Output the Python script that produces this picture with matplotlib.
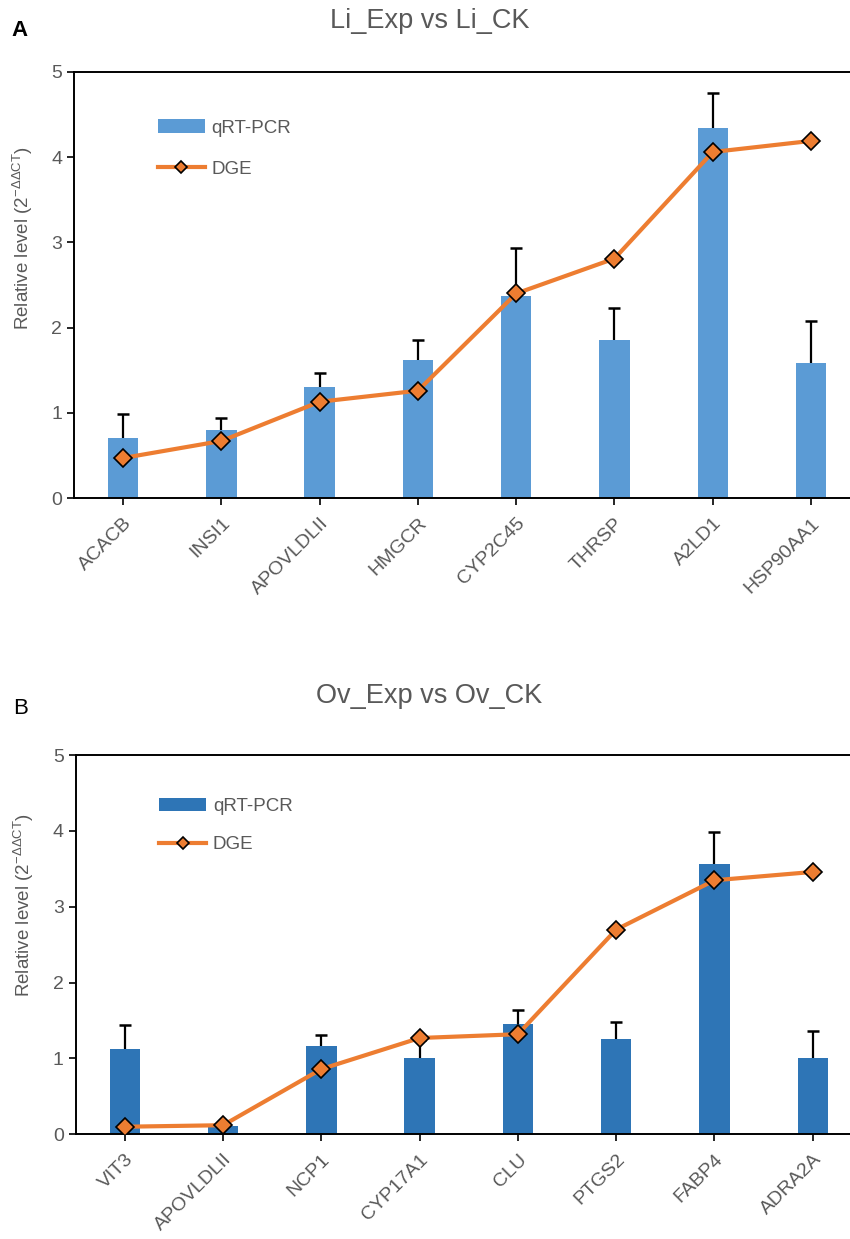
import matplotlib.pyplot as plt
from matplotlib.patches import Patch
from matplotlib.lines import Line2D
import numpy as np

plt.rcParams["font.family"] = ["Liberation Sans", "DejaVu Sans"]

# Panel A: Li_Exp vs Li_CK
genes_a = ["ACACB", "INSI1", "APOVLDLII", "HMGCR", "CYP2C45", "THRSP", "A2LD1", "HSP90AA1"]
qpcr_a = [0.70, 0.80, 1.30, 1.62, 2.37, 1.86, 4.34, 1.58]
qpcr_a_top = [0.99, 0.94, 1.47, 1.86, 2.93, 2.23, 4.75, 2.08]
dge_a = [0.47, 0.67, 1.13, 1.26, 2.40, 2.81, 4.06, 4.19]

# Panel B: Ov_Exp vs Ov_CK
genes_b = ["VIT3", "APOVLDLII", "NCP1", "CYP17A1", "CLU", "PTGS2", "FABP4", "ADRA2A"]
qpcr_b = [1.12, 0.11, 1.16, 1.00, 1.46, 1.26, 3.56, 1.00]
qpcr_b_top = [1.44, 0.14, 1.31, 1.25, 1.64, 1.48, 3.99, 1.36]
dge_b = [0.10, 0.12, 0.86, 1.27, 1.32, 2.70, 3.35, 3.46]

gray = "#595959"
orange = "#ED7D31"

fig = plt.figure(figsize=(8.5, 12.39), dpi=100)


def panel(rect, genes, qpcr, qpcr_top, dge, bar_color, leg_top, leg_space, lab_y):
    ax = fig.add_axes(rect)
    x = np.arange(len(genes))
    ax.bar(x, qpcr, width=0.31, color=bar_color, zorder=2)
    # error bars, upper half only
    ax.vlines(x, qpcr, qpcr_top, color="black", lw=1.6, zorder=1)
    ax.plot(x, qpcr_top, "_", color="black", markersize=9, mew=1.8, zorder=1)
    ax.plot(x, dge, color=orange, lw=3, marker="D", markersize=9,
            markerfacecolor=orange, markeredgecolor="black", markeredgewidth=1.2,
            zorder=3)
    ax.set_xlim(-0.5, len(genes) - 0.5)
    ax.set_ylim(0, 5)
    ax.set_yticks(range(6))
    ax.set_xticks(x)
    ax.set_xticklabels(genes, rotation=45, ha="right", rotation_mode="anchor")
    ax.tick_params(axis="both", colors="black", labelcolor=gray, labelsize=14,
                   width=1.2, length=5, direction="out")
    ax.tick_params(axis="x", pad=7)
    for s in ["left", "bottom", "top"]:
        ax.spines[s].set_linewidth(1.4)
    ax.spines["right"].set_visible(False)
    ax.set_ylabel(r"Relative level (2$^{\mathregular{-\Delta\Delta CT}}$)",
                  fontsize=13.5, color=gray)
    ax.yaxis.set_label_coords(-0.05, lab_y)
    handles = [
        Patch(facecolor=bar_color, edgecolor="none"),
        Line2D([], [], color=orange, lw=3, marker="D", markersize=6,
               markerfacecolor=orange, markeredgecolor="black", markeredgewidth=1.2),
    ]
    ax.legend(handles, ["qRT-PCR", "DGE"], loc="upper left",
              bbox_to_anchor=(0.097, leg_top), frameon=False, fontsize=13.5,
              handlelength=2.5, labelspacing=leg_space, handletextpad=0.35,
              labelcolor=gray, borderaxespad=0)
    return ax


panel([0.087, 0.598, 0.925, 0.344], genes_a, qpcr_a, qpcr_a_top, dge_a,
      "#5B9BD5", 0.906, 1.3, 0.61)
panel([0.089, 0.0845, 0.925, 0.306], genes_b, qpcr_b, qpcr_b_top, dge_b,
      "#2E75B6", 0.906, 1.1, 0.604)

fig.text(0.505, 0.983, "Li_Exp vs Li_CK", ha="center", va="center", fontsize=19.5, color=gray)
fig.text(0.505, 0.438, "Ov_Exp vs Ov_CK", ha="center", va="center", fontsize=19.5, color=gray)
fig.text(0.014, 0.975, "A", fontsize=16, fontweight="bold", va="center")
fig.text(0.016, 0.428, "B", fontsize=16, va="center")

plt.savefig("out.png", dpi=100)
plt.close()
